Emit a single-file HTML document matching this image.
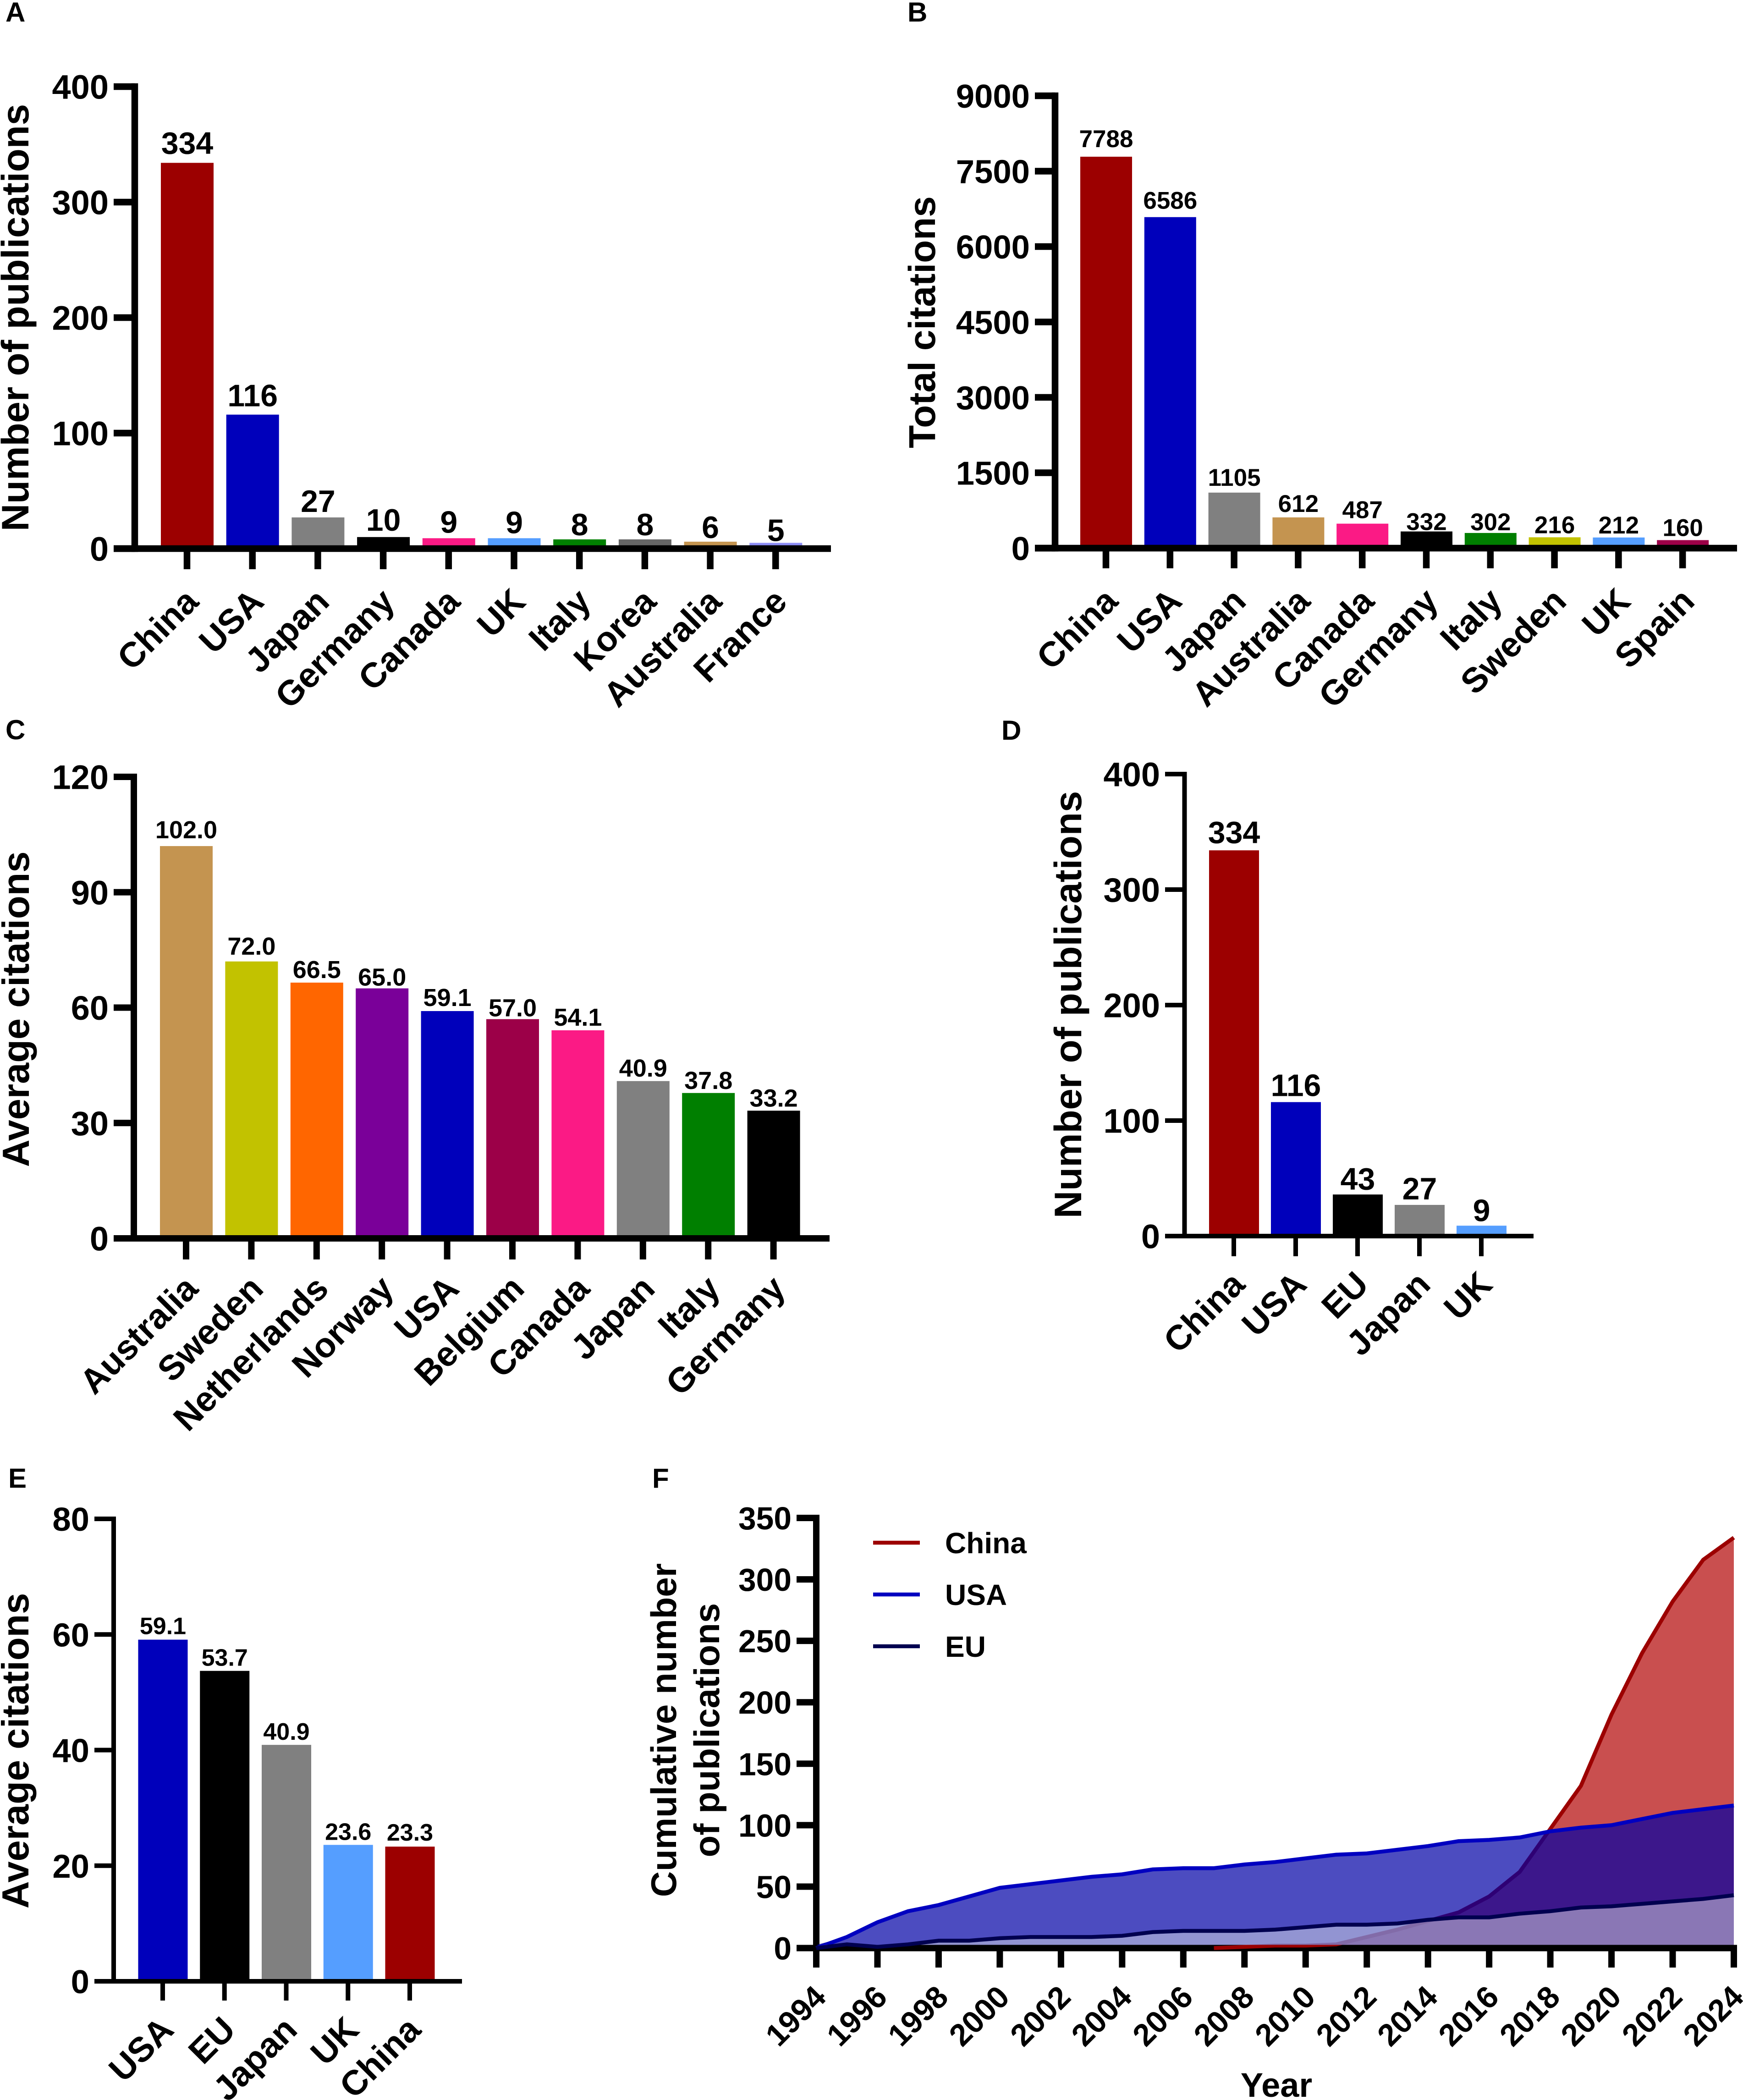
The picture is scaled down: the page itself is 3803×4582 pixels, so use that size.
<!DOCTYPE html>
<html lang="en">
<head>
<meta charset="utf-8">
<title>Publications and citations by country</title>
<style>
html,body{margin:0;padding:0;background:#fff;}
svg{display:block;}
text{font-family:"Liberation Sans",Arial,sans-serif;font-weight:bold;fill:#000;}
</style>
</head>
<body>
<svg id="figure" xmlns="http://www.w3.org/2000/svg" width="3803" height="4582" viewBox="0 0 3803 4582">
  <rect x="0" y="0" width="3803" height="4582" fill="#fff"/>

  <g id="panel-a">
    <text x="12" y="47" font-size="60">A</text>
    <text transform="translate(62 693) rotate(-90)" text-anchor="middle" font-size="83.5">Number of publications</text>
  </g>
  <g id="panel-b">
    <text x="1980" y="47" font-size="60">B</text>
    <text transform="translate(2040 703) rotate(-90)" text-anchor="middle" font-size="82">Total citations</text>
  </g>
  <g id="panel-c">
    <text x="12" y="1613" font-size="60">C</text>
    <text transform="translate(63 2202) rotate(-90)" text-anchor="middle" font-size="83">Average citations</text>
  </g>
  <g id="panel-d">
    <text x="2185" y="1614" font-size="60">D</text>
    <text transform="translate(2359 2192) rotate(-90)" text-anchor="middle" font-size="83.5">Number of publications</text>
  </g>
  <g id="panel-e">
    <text x="18" y="3246" font-size="60">E</text>
    <text transform="translate(62 3820) rotate(-90)" text-anchor="middle" font-size="83">Average citations</text>
  </g>
  <g id="panel-f">
    <text x="1423" y="3246" font-size="60">F</text>
    <text transform="translate(1475 3775) rotate(-90)" text-anchor="middle" font-size="78">Cumulative number</text>
    <text transform="translate(1569 3775) rotate(-90)" text-anchor="middle" font-size="78">of publications</text>
    <text x="2785" y="4575" text-anchor="middle" font-size="74">Year</text>
  </g>
</svg>

<script>
// ---- Panel A data ----
const categoriesA = ['China','USA','Japan','Germany','Canada','UK','Italy','Korea','Australia','France'];
const valuesA = [334,116,27,10,9,9,8,8,6,5];
const labelsA = ['334','116','27','10','9','9','8','8','6','5'];
const ticksA = [0,100,200,300,400];

// ---- Panel B data ----
const categoriesB = ['China','USA','Japan','Australia','Canada','Germany','Italy','Sweden','UK','Spain'];
const valuesB = [7788,6586,1105,612,487,332,302,216,212,160];
const labelsB = ['7788','6586','1105','612','487','332','302','216','212','160'];
const ticksB = [0,1500,3000,4500,6000,7500,9000];

// ---- Panel C data ----
const categoriesC = ['Australia','Sweden','Netherlands','Norway','USA','Belgium','Canada','Japan','Italy','Germany'];
const valuesC = [102.0,72.0,66.5,65.0,59.1,57.0,54.1,40.9,37.8,33.2];
const labelsC = ['102.0','72.0','66.5','65.0','59.1','57.0','54.1','40.9','37.8','33.2'];
const ticksC = [0,30,60,90,120];

// ---- Panel D data ----
const categoriesD = ['China','USA','EU','Japan','UK'];
const valuesD = [334,116,36,27,9];
const labelsD = ['334','116','43','27','9'];
const ticksD = [0,100,200,300,400];

// ---- Panel E data ----
const categoriesE = ['USA','EU','Japan','UK','China'];
const valuesE = [59.1,53.7,40.9,23.6,23.3];
const labelsE = ['59.1','53.7','40.9','23.6','23.3'];
const ticksE = [0,20,40,60,80];

// ---- Panel F data ----
const yearsF = [1994,1995,1996,1997,1998,1999,2000,2001,2002,2003,2004,2005,2006,2007,2008,2009,2010,2011,2012,2013,2014,2015,2016,2017,2018,2019,2020,2021,2022,2023,2024];
const chinaF = [null,null,null,null,null,null,null,null,null,null,null,null,null,0,1,2,2,3,9,15,22,29,42,62,97,132,190,240,282,316,334];
const usaF = [0,9,21,30,35,42,49,52,55,58,60,64,65,65,68,70,73,76,77,80,83,87,88,90,95,98,100,105,110,113,116];
const euF = [0,3,1,3,6,6,8,9,9,9,10,13,14,14,14,15,17,19,19,20,23,25,25,28,30,33,34,36,38,40,43];
const yTicksF = [0,50,100,150,200,250,300,350];
const xTicksF = [1994,1996,1998,2000,2002,2004,2006,2008,2010,2012,2014,2016,2018,2020,2022,2024];
const legendF = ['China','USA','EU'];

// ---- Styling and layout (separate from the data) ----
const colourOf = {China:'#9c0000',USA:'#0000bb',Japan:'#808080',Germany:'#000000',Canada:'#fb1a85',UK:'#559eff',Italy:'#007f00',Korea:'#666666',Australia:'#c49450',France:'#8d8df5',Sweden:'#c2c200',Spain:'#9c0048',Netherlands:'#ff6600',Norway:'#7a0099',Belgium:'#9c0048',EU:'#000000'};
const frameA = {ax:294,y0:1197,yTop:189,yMax:400,x0:408,step:142.7,barW:115,right:1813,tickLeft:248,tickBottom:1242,sw:14.5,tickFont:74,valFont:68,valGaps:[20,18,12,14,12,11,9,9,8,4],catFont:76,catDx:29,catDy:120};
const frameB = {ax:2302,y0:1196,yTop:209,yMax:9000,x0:2413,step:139.8,barW:113,right:3790,tickLeft:2258,tickBottom:1240,sw:14.5,tickFont:72.5,valFont:53,valGaps:[21,18,15,12,12,3,6,9,9,9],catFont:76,catDx:30,catDy:120};
const frameC = {ax:292,y0:2702,yTop:1695,yMax:120,x0:406,step:142.4,barW:115,right:1810,tickLeft:248,tickBottom:2748,sw:14,tickFont:74,valFont:54,valGaps:[17,15,10,6,11,6,10,10,9,9],catFont:76,catDx:30,catDy:114};
const frameD = {ax:2584.5,y0:2697,yTop:1689,yMax:400,x0:2692,step:135,barW:109,right:3346,tickLeft:2542,tickBottom:2741,sw:10,tickFont:74,valFont:68,valGaps:[16,13,11,12,10],catFont:76,catDx:28,catDy:110};
const frameE = {ax:248,y0:4323,yTop:3314,yMax:80,x0:355,step:134.75,barW:108,right:1008,tickLeft:206,tickBottom:4365,sw:10,tickFont:72.5,valFont:52,valGaps:[12,11,11,11,13],catFont:76,catDx:28,catDy:110};
const frameF = {ax:1781,xEnd:3783,y0:4250.5,yTop:3312,yMax:350,xMin:1994,xMax:2024,right:3790,tickLeft:1738,tickBottom:4293,sw:14,tickFont:69.5,catFont:68,catDx:25,catDy:111};

const SVG_NS = 'http://www.w3.org/2000/svg';
function make(parent, tag, attrs, text) {
  const el = document.createElementNS(SVG_NS, tag);
  for (const k in attrs) el.setAttribute(k, attrs[k]);
  if (text !== undefined) el.textContent = text;
  parent.appendChild(el);
  return el;
}

function drawAxisLines(g, f, yScale, ticks, prefix) {
  const half = f.sw / 2;
  const yAxis = make(g, 'rect', {x:f.ax-half, y:f.yTop-half, width:f.sw, height:f.y0-f.yTop+f.sw, fill:'#000'});
  
  
  const xAxis = make(g, 'rect', {x:f.tickLeft, y:f.y0-half, width:f.right-f.tickLeft, height:f.sw, fill:'#000'});
  
  
  ticks.forEach(function (t) {
    const y = yScale(t);
    const mark = make(g, 'rect', {x:f.tickLeft, y:y-half, width:f.ax-f.tickLeft, height:f.sw, fill:'#000'});
    
    
    const label = make(g, 'text', {x:f.tickLeft-11, y:y+0.36*f.tickFont, 'text-anchor':'end', 'font-size':f.tickFont}, String(t));
    
    
  });
}

function drawCategoryTick(g, f, x, text, prefix) {
  const half = f.sw / 2;
  const mark = make(g, 'rect', {x:x-half, y:f.y0, width:f.sw, height:f.tickBottom-f.y0, fill:'#000'});
  
  
  const px = x + f.catDx, py = f.y0 + f.catDy;
  const label = make(g, 'text', {transform:'translate(' + px + ' ' + py + ') rotate(-45)', 'text-anchor':'end', 'font-size':f.catFont}, String(text));
  
  
}

function drawBarPanel(id, f, categories, values, labels, ticks) {
  const g = document.getElementById(id);
  const prefix = id.replace('panel-', '');
  const yScale = function (v) { return f.y0 - (v / f.yMax) * (f.y0 - f.yTop); };
  const xScale = function (i) { return f.x0 + i * f.step; };
  categories.forEach(function (cat, i) {
    const x = xScale(i);
    const top = yScale(values[i]);
    const bar = make(g, 'rect', {x:x-f.barW/2+0.5, y:top, width:f.barW, height:f.y0-top, fill:colourOf[cat]});
    
    
    const val = make(g, 'text', {x:x+0.5, y:top-f.valGaps[i], 'text-anchor':'middle', 'font-size':f.valFont}, labels[i]);
    
    
  });
  drawAxisLines(g, f, yScale, ticks, prefix);
  categories.forEach(function (cat, i) {
    drawCategoryTick(g, f, xScale(i), cat, prefix);
  });
}

drawBarPanel('panel-a', frameA, categoriesA, valuesA, labelsA, ticksA);
drawBarPanel('panel-b', frameB, categoriesB, valuesB, labelsB, ticksB);
drawBarPanel('panel-c', frameC, categoriesC, valuesC, labelsC, ticksC);
drawBarPanel('panel-d', frameD, categoriesD, valuesD, labelsD, ticksD);
drawBarPanel('panel-e', frameE, categoriesE, valuesE, labelsE, ticksE);

// ---- Panel F: cumulative area chart ----
(function () {
  const f = frameF;
  const g = document.getElementById('panel-f');
  const xScale = function (yr) { return f.ax + (yr - f.xMin) / (f.xMax - f.xMin) * (f.xEnd - f.ax); };
  const yScale = function (v) { return f.y0 - (v / f.yMax) * (f.y0 - f.yTop); };

  drawAxisLines(g, f, yScale, yTicksF, 'f');
  xTicksF.forEach(function (yr) { drawCategoryTick(g, f, xScale(yr), yr, 'f'); });

  const styles = {
    China:{fill:'#b10000', alpha:0.69, line:'#9c0000'},
    USA:{fill:'#0000a5', alpha:0.7, line:'#0000c0'},
    EU:{fill:'#e8eee8', alpha:0.45, line:'#00004f'}
  };
  function drawSeries(name, values) {
    const st = styles[name];
    const pts = [];
    values.forEach(function (v, i) {
      if (v !== null) pts.push([xScale(yearsF[i]), yScale(v)]);
    });
    const base = f.y0 - f.sw / 2;
    const linePts = pts.map(function (p) { return p[0] + ',' + p[1]; }).join(' ');
    const areaPts = pts[0][0] + ',' + base + ' ' + pts.map(function (p) { return p[0] + ',' + Math.min(p[1], base); }).join(' ') + ' ' + pts[pts.length-1][0] + ',' + base;
    const area = make(g, 'polygon', {points:areaPts, fill:st.fill, 'fill-opacity':st.alpha});
    
    
    const line = make(g, 'polyline', {points:linePts, fill:'none', stroke:st.line, 'stroke-width':8.5, 'stroke-linejoin':'miter'});
    
    
  }
  drawSeries('China', chinaF);
  drawSeries('USA', usaF);
  drawSeries('EU', euF);

  legendF.forEach(function (name, i) {
    const y = 3366 + i * 113;
    const swatch = make(g, 'line', {x1:1905, x2:2007, y1:y, y2:y, stroke:styles[name].line, 'stroke-width':8.5});
    
    
    const label = make(g, 'text', {x:2062, y:y+23, 'font-size':64}, name);
    
    
  });
})();
</script>
</body>
</html>
